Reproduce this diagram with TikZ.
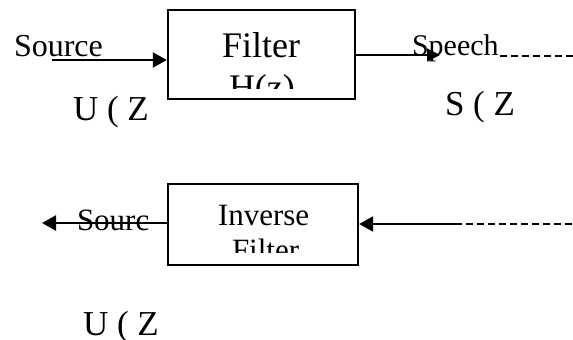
\documentclass[tikz,border=0pt]{standalone}
\usepackage{fontspec}
\setmainfont{Liberation Serif}
\usetikzlibrary{arrows.meta}
\tikzset{
  lbl/.style={anchor=base west, inner sep=0pt, outer sep=0pt},
  boxnode/.style={draw, line width=2.3pt, minimum width=#1, inner sep=0pt},
  arr/.style={line width=2.2pt, -{Triangle[length=14pt,width=15pt]}},
  thinarr/.style={line width=1.6pt, -{Triangle[length=13pt,width=13pt]}},
  dashline/.style={line width=2pt, dash pattern=on 7pt off 4pt},
}
\newcommand{\fs}[1]{\fontsize{#1}{#1}\selectfont}
\begin{document}
\begin{tikzpicture}[x=1pt,y=-1pt]
\useasboundingbox (0,0) rectangle (573,340);
% boxes
\node[boxnode=187pt, minimum height=89pt] (filt) at (261.5,54.5) {};
\node[boxnode=190pt, minimum height=81pt] (inv) at (263,224.5) {};
% clipped box texts
\begin{scope}
\clip (170,12) rectangle (353,88);
\node[lbl] (ft) at (222,57) {\fs{36}Filter};
\node[lbl] (hz) at (229,99) {\fs{36}H(z)};
\end{scope}
\begin{scope}
\clip (170,186) rectangle (356,252);
\node[lbl] (it) at (218,225) {\fs{31}Inverse};
\node[lbl] (ft2) at (232,260) {\fs{31}Filter};
\end{scope}
% labels
\node[lbl] (src) at (14,56) {\fs{32}Source};
\node[lbl] (sp) at (412,55) {\fs{30}Speech};
\node[lbl] (sz) at (445,115) {\fs{35}S ( Z};
\node[lbl] (uz1) at (73,120) {\fs{35}U ( Z};
\node[lbl] (src2) at (77,230) {\fs{31}Sourc};
\node[lbl] (uz2) at (83,335) {\fs{35}U ( Z};
% connector end points
\coordinate (a1) at (52,60);
\coordinate (a2) at (440,55);
\coordinate (d1s) at (500,56);
\coordinate (d1e) at (573,56);
\coordinate (b1) at (42,223);
\coordinate (b2) at (455,224);
\coordinate (d2e) at (573,224);
% connectors
\draw[arr] (a1) -- (a1 -| filt.west);
\draw[thinarr] (a2 -| filt.east) -- (a2);
\draw[dashline] (d1s) -- (d1e);
\draw[arr] (b1 -| inv.west) -- (b1);
\draw[arr] (b2) -- (b2 -| inv.east);
\draw[dashline] (b2) -- (d2e);
\end{tikzpicture}
\end{document}
